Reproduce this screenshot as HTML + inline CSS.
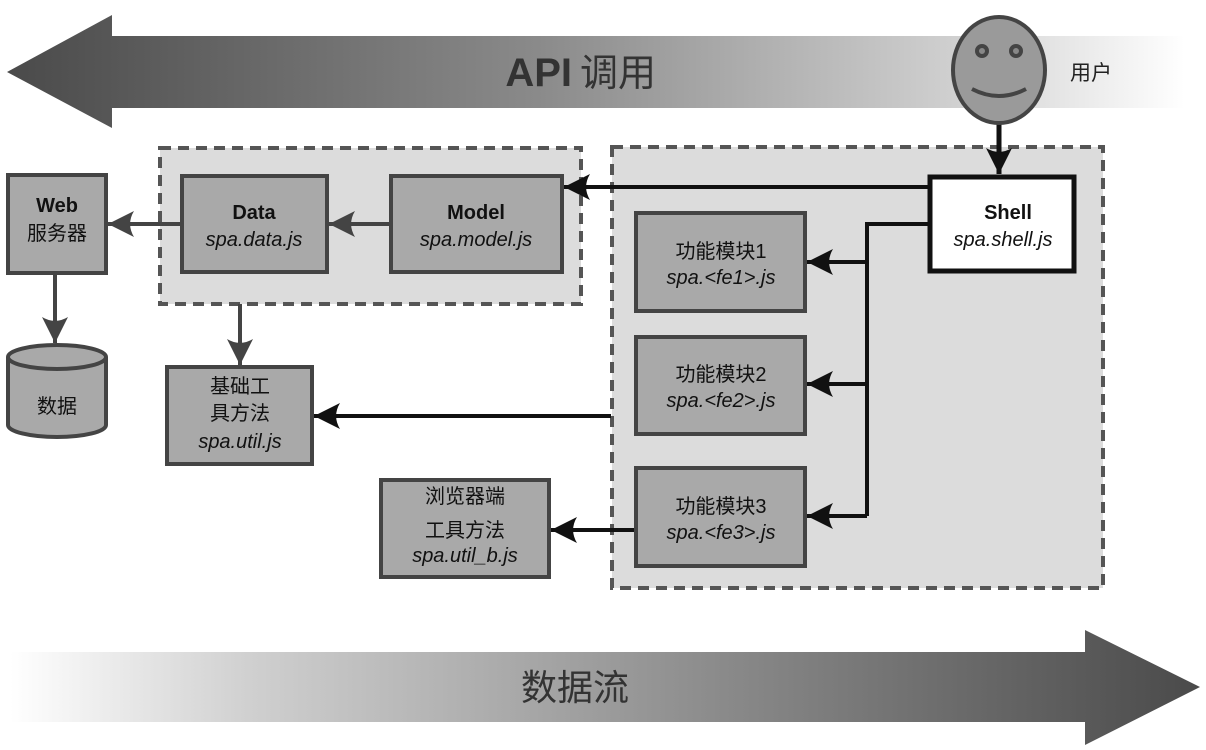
<!DOCTYPE html>
<html><head><meta charset="utf-8"><style>
html,body{margin:0;padding:0;background:#fff;}
svg{display:block;}
text{font-family:"Liberation Sans","Noto Sans CJK SC",sans-serif;}
</style></head><body>
<svg width="1206" height="750" viewBox="0 0 1206 750" xmlns="http://www.w3.org/2000/svg">
<defs>
<linearGradient id="gt" x1="0" x2="1" y1="0" y2="0">
<stop offset="0" stop-color="#4a4a4a"/><stop offset="0.45" stop-color="#8a8a8a"/><stop offset="0.8" stop-color="#cfcfcf"/><stop offset="1" stop-color="#fff"/></linearGradient>
<linearGradient id="gb" x1="0" x2="1" y1="0" y2="0">
<stop offset="0" stop-color="#fff"/><stop offset="0.2" stop-color="#d0d0d0"/><stop offset="0.6" stop-color="#8a8a8a"/><stop offset="1" stop-color="#4a4a4a"/></linearGradient>
<marker id="abL" markerWidth="26" markerHeight="26" refX="10" refY="5" orient="auto" markerUnits="userSpaceOnUse" viewBox="0 0 10 10">
<path d="M0,0 L10,5 L0,10 Q3,5 0,0Z" fill="#111"/></marker>
<marker id="agL" markerWidth="26" markerHeight="26" refX="10" refY="5" orient="auto" markerUnits="userSpaceOnUse" viewBox="0 0 10 10">
<path d="M0,0 L10,5 L0,10 Q3,5 0,0Z" fill="#444"/></marker>
</defs>

<path d="M7,72 L112,15 L112,36 L1185,36 L1185,108 L112,108 L112,128 Z" fill="url(#gt)"/>
<text x="572" y="86" font-size="40" font-weight="bold" fill="#333" text-anchor="end">API</text>
<text x="580" y="86" font-size="38" fill="#333">调用</text>

<path d="M10,652 L1085,652 L1085,630 L1200,687 L1085,745 L1085,722 L10,722 Z" fill="url(#gb)"/>
<text x="575" y="700" font-size="36" fill="#333" text-anchor="middle">数据流</text>

<rect x="160" y="148" width="421" height="156" fill="#dcdcdc" stroke="#555" stroke-width="4" stroke-dasharray="11,7"/>
<rect x="612" y="147" width="491" height="441" fill="#dcdcdc" stroke="#555" stroke-width="4" stroke-dasharray="11,7"/>

<line x1="999" y1="122" x2="999" y2="174" stroke="#111" stroke-width="5" marker-end="url(#abL)"/>
<ellipse cx="999" cy="70" rx="46" ry="53" fill="#9a9a9a" stroke="#444" stroke-width="4"/>
<circle cx="982" cy="51" r="5" fill="#888" stroke="#444" stroke-width="4"/>
<circle cx="1016" cy="51" r="5" fill="#888" stroke="#444" stroke-width="4"/>
<path d="M972,89 Q999,103 1026,89" fill="none" stroke="#444" stroke-width="4"/>
<text x="1070" y="80" font-size="21" fill="#222">用户</text>

<line x1="929" y1="187" x2="564" y2="187" stroke="#111" stroke-width="4" marker-end="url(#abL)"/>
<polyline points="929,224 867,224 867,516" fill="none" stroke="#111" stroke-width="4"/>
<line x1="867" y1="262" x2="807" y2="262" stroke="#111" stroke-width="4" marker-end="url(#abL)"/>
<line x1="867" y1="384" x2="807" y2="384" stroke="#111" stroke-width="4" marker-end="url(#abL)"/>
<line x1="867" y1="516" x2="807" y2="516" stroke="#111" stroke-width="4" marker-end="url(#abL)"/>
<line x1="611" y1="416" x2="314" y2="416" stroke="#111" stroke-width="4" marker-end="url(#abL)"/>
<line x1="636" y1="530" x2="551" y2="530" stroke="#111" stroke-width="4" marker-end="url(#abL)"/>
<line x1="391" y1="224" x2="329" y2="224" stroke="#444" stroke-width="4" marker-end="url(#agL)"/>
<line x1="182" y1="224" x2="108" y2="224" stroke="#444" stroke-width="4" marker-end="url(#agL)"/>
<line x1="55" y1="273" x2="55" y2="343" stroke="#444" stroke-width="4" marker-end="url(#agL)"/>
<line x1="240" y1="304" x2="240" y2="365" stroke="#444" stroke-width="4" marker-end="url(#agL)"/>

<g stroke="#444" stroke-width="4" fill="#a9a9a9">
<rect x="8" y="175" width="98" height="98"/>
<rect x="182" y="176" width="145" height="96"/>
<rect x="391" y="176" width="171" height="96"/>
<rect x="636" y="213" width="169" height="98"/>
<rect x="636" y="337" width="169" height="97"/>
<rect x="636" y="468" width="169" height="98"/>
<rect x="167" y="367" width="145" height="97"/>
<rect x="381" y="480" width="168" height="97"/>
<path d="M8,357 L8,425 A49,12 0 0 0 106,425 L106,357"/>
<ellipse cx="57" cy="357" rx="49" ry="12"/>
</g>
<rect x="930" y="177" width="144" height="94" fill="#fff" stroke="#111" stroke-width="5"/>

<g font-size="20" fill="#111" text-anchor="middle">
<text x="57" y="212" font-weight="bold">Web</text>
<text x="57" y="240">服务器</text>
<text x="254" y="219" font-weight="bold">Data</text>
<text x="254" y="246" font-style="italic">spa.data.js</text>
<text x="476" y="219" font-weight="bold">Model</text>
<text x="476" y="246" font-style="italic">spa.model.js</text>
<text x="1008" y="219" font-weight="bold">Shell</text>
<text x="1003" y="246" font-style="italic">spa.shell.js</text>
<text x="721" y="258">功能模块1</text>
<text x="721" y="284" font-style="italic">spa.&lt;fe1&gt;.js</text>
<text x="721" y="381">功能模块2</text>
<text x="721" y="407" font-style="italic">spa.&lt;fe2&gt;.js</text>
<text x="721" y="513">功能模块3</text>
<text x="721" y="539" font-style="italic">spa.&lt;fe3&gt;.js</text>
<text x="240" y="393">基础工</text>
<text x="240" y="420">具方法</text>
<text x="240" y="448" font-style="italic">spa.util.js</text>
<text x="465" y="503">浏览器端</text>
<text x="465" y="537">工具方法</text>
<text x="465" y="562" font-style="italic">spa.util_b.js</text>
<text x="57" y="413">数据</text>
</g>
</svg>
</body></html>
